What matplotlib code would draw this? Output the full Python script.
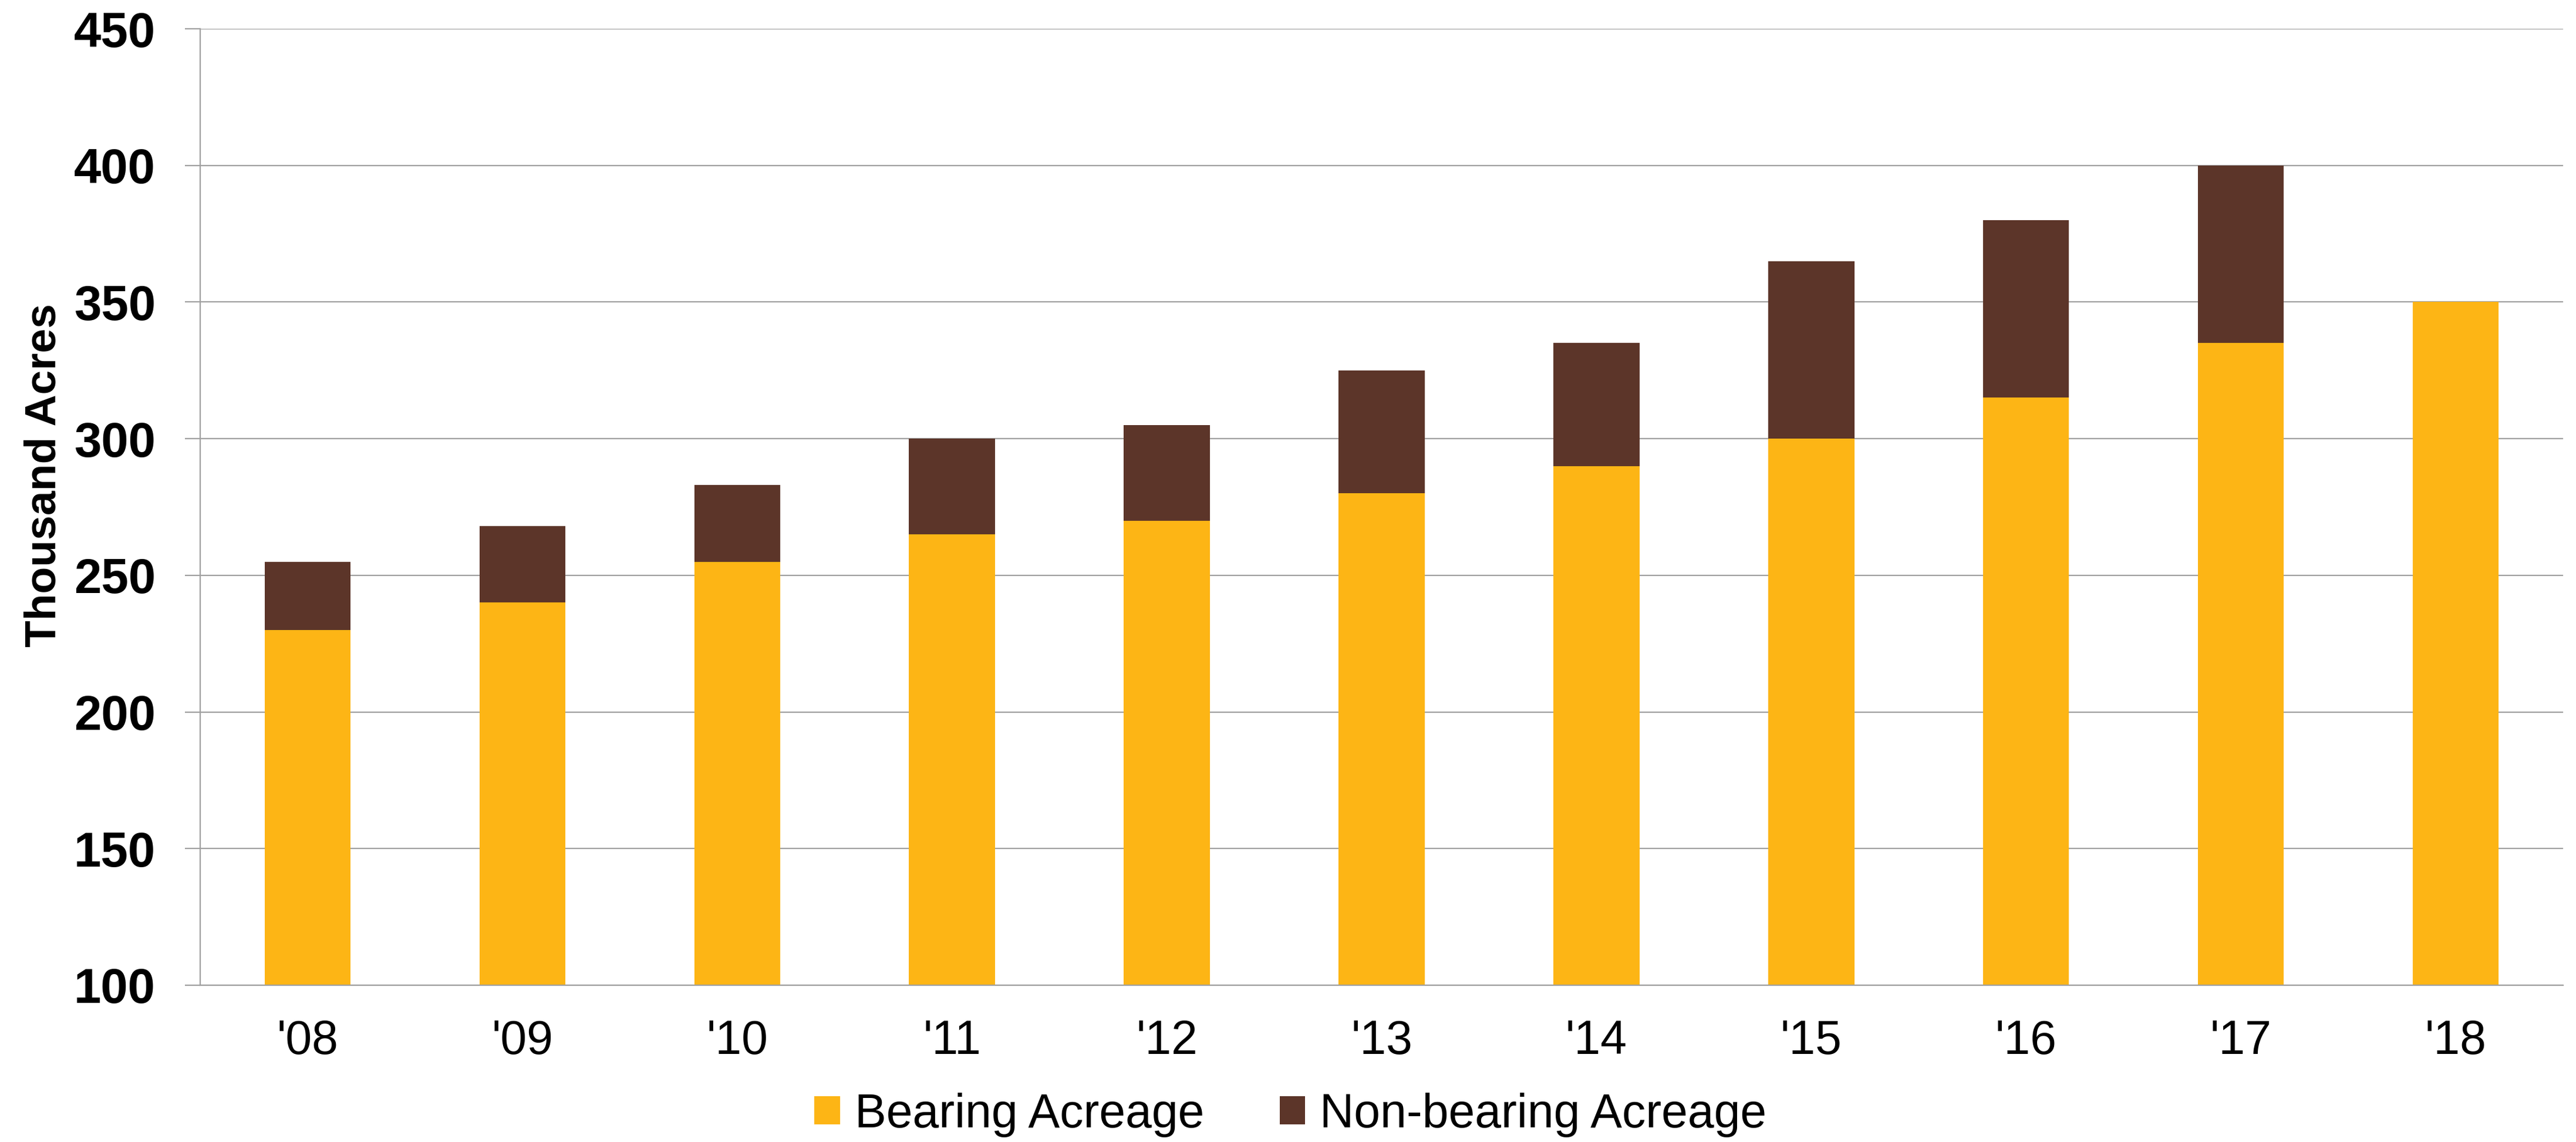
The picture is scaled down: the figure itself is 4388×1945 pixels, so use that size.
import matplotlib
matplotlib.use("Agg")
from matplotlib import pyplot as plt

years = ["'08", "'09", "'10", "'11", "'12", "'13", "'14", "'15", "'16", "'17", "'18"]
bearing = [230, 240, 255, 265, 270, 280, 290, 300, 315, 335, 350]
total = [255, 268, 283, 300, 305, 325, 335, 365, 380, 400, 350]
non_bearing = [t - b for t, b in zip(total, bearing)]

gold = '#FDB515'
brown = '#5C3529'
grey = '#A0A0A0'

plt.rcParams['font.family'] = ['Liberation Sans', 'DejaVu Sans']

fig = plt.figure(figsize=(43.88, 19.45), dpi=100)
ax = fig.add_axes([0.0777, 0.1373, 0.9173, 0.8375])

x = range(len(years))
ax.bar(x, bearing, width=0.4, color=gold, label="Bearing Acreage", zorder=2)
ax.bar(x, non_bearing, width=0.4, bottom=bearing, color=brown,
       label="Non-bearing Acreage", zorder=2)

ax.set_xlim(-0.5, len(years) - 0.5)
ax.set_ylim(100, 450)
ax.set_yticks(range(100, 451, 50))
ax.set_xticks(list(x))
ax.set_xticklabels(years)

ax.set_axisbelow(True)
ax.yaxis.grid(True, color=grey, linewidth=1.6)
for s in ['top', 'right']:
    ax.spines[s].set_visible(False)
for s in ['left', 'bottom']:
    ax.spines[s].set_color(grey)
    ax.spines[s].set_linewidth(1.6)

ax.tick_params(axis='y', length=18.7, width=1.6, color=grey, pad=36, labelsize=60)
ax.tick_params(axis='x', length=0, pad=42, labelsize=58)
for t in ax.get_yticklabels():
    t.set_fontweight('bold')

ax.set_ylabel("Thousand Acres", fontsize=54, fontweight='bold', va='center')
ax.yaxis.set_label_coords(-0.066, 0.533)

fig.legend(loc='center', bbox_to_anchor=(0.501, 0.0237), ncol=2, frameon=False,
           fontsize=58, handlelength=0.54, handleheight=0.54,
           handletextpad=0.31, columnspacing=1.6)

fig.savefig("out.png", dpi=100)
